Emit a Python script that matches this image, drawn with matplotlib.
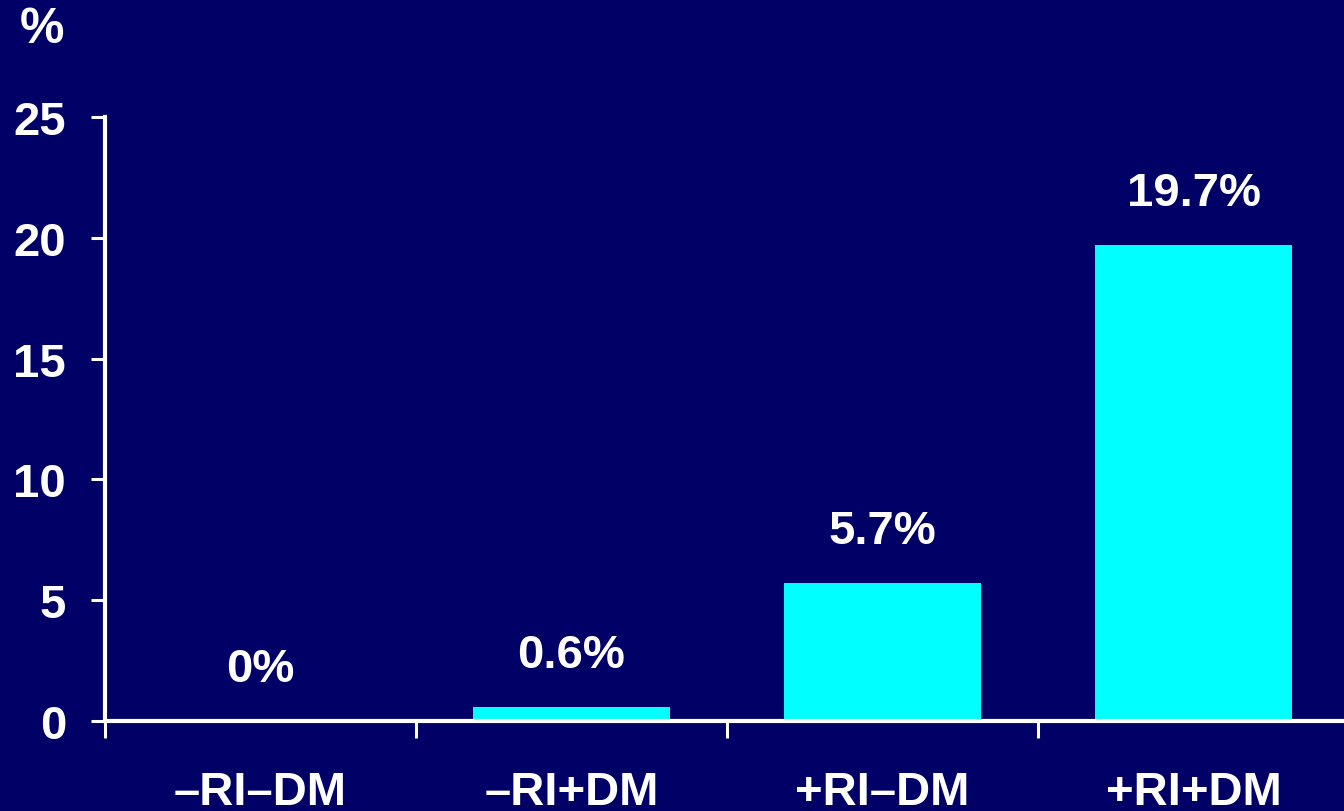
import matplotlib
matplotlib.use("Agg")
import matplotlib.pyplot as plt

plt.rcParams['font.family'] = ['Liberation Sans', 'DejaVu Sans']

categories = ["–RI–DM", "–RI+DM", "+RI–DM", "+RI+DM"]
values = [0.0, 0.6, 5.7, 19.7]
value_labels = ["0%", "0.6%", "5.7%", "19.7%"]
y_ticks = [0, 5, 10, 15, 20, 25]

BG = "#000066"
BAR = "#00FFFF"
FG = "white"

W, H = 1344, 812
fig = plt.figure(figsize=(W / 100, H / 100), dpi=100, facecolor=BG)
ax = fig.add_axes([105 / W, (H - 722) / H, (1349 - 105) / W, (722 - 118) / H])
ax.set_facecolor(BG)

x = range(len(categories))
ax.bar(x, values, width=0.635, color=BAR, zorder=2)

for xi, v, lab in zip(x, values, value_labels):
    ax.annotate(lab, (xi, v), xytext=(0, 52 * 0.72), textcoords="offset points",
                ha="center", va="center", color=FG, fontsize=34, fontweight="bold")

ax.set_xlim(-0.5, 3.5)
ax.set_ylim(0, 25)
ax.set_yticks(y_ticks)
ax.set_yticklabels([str(t) for t in y_ticks])

ax.set_xticks(list(x))
ax.set_xticklabels(categories)
ax.set_xticks([i - 0.5 for i in range(len(categories) + 1)], minor=True)

for s in ["top", "right"]:
    ax.spines[s].set_visible(False)
for s in ["left", "bottom"]:
    ax.spines[s].set_color(FG)
    ax.spines[s].set_linewidth(3)
    ax.spines[s].set_zorder(3)

ax.tick_params(axis="y", colors=FG, length=10, width=2.2, pad=18, labelsize=34)
ax.tick_params(axis="x", which="major", colors=FG, length=0, pad=35, labelsize=34)
ax.tick_params(axis="x", which="minor", colors=FG, length=12, width=2.2)
for lab in ax.get_xticklabels() + ax.get_yticklabels():
    lab.set_fontweight("bold")

fig.text(42 / W, 1 - 30 / H, "%", color=FG, fontsize=36, fontweight="bold",
         ha="center", va="center")

fig.savefig("out.png", dpi=100, facecolor=BG)
